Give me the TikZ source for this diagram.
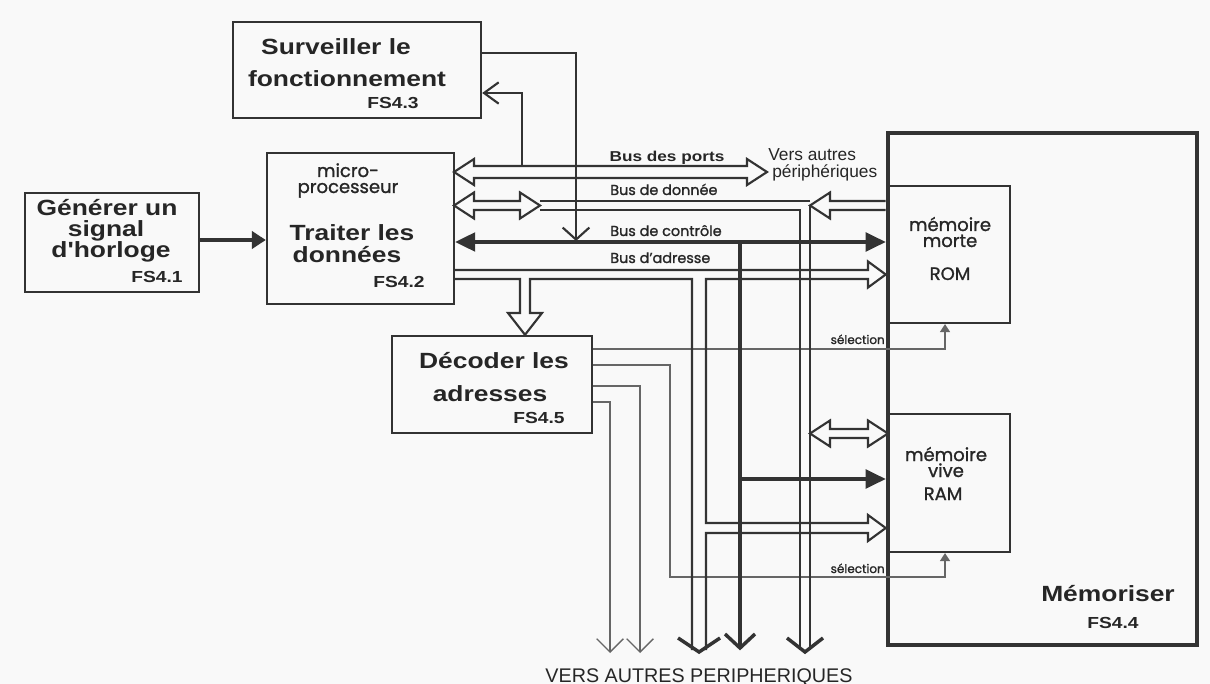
\documentclass[tikz,border=0pt]{standalone}
\usepackage{fontspec}
\setmainfont{Liberation Sans}
\newfontfamily\headfont{Liberation Sans}[FakeStretch=1.2]
\newfontfamily\geofont{Poppins}[FakeBold=1.2]
\usetikzlibrary{arrows.meta}

\definecolor{ink}{HTML}{262626}
\definecolor{wire}{HTML}{333333}
\definecolor{selwire}{HTML}{666666}
\definecolor{paper}{HTML}{F9F9F9}

\tikzset{
  block/.style={draw=wire, line width=1.8pt, inner sep=0pt},
  title/.style={font=\headfont\bfseries\fontsize{16.5}{18}\selectfont, text=ink, inner sep=0pt, anchor=base},
  fsref/.style={font=\headfont\bfseries\fontsize{12}{14}\selectfont, text=ink, inner sep=0pt, anchor=base},
  memlabel/.style={font=\geofont\fontsize{13.5}{12}\selectfont, text=ink, inner sep=0pt, align=center, anchor=base},
  buslabel/.style={font=\geofont\fontsize{10.8}{12}\selectfont, text=ink, inner sep=0pt, anchor=base west},
  sellabel/.style={font=\geofont\fontsize{9}{10}\selectfont, text=ink, inner sep=0pt, anchor=base east},
  plainlabel/.style={font=\fontsize{13}{12.75}\selectfont, text=ink, inner sep=0pt, align=left, anchor=base west},
  bus/.style={draw=wire, line width=1.6pt, line join=miter},
  ctrl/.style={draw=wire, line width=2.6pt, line join=miter},
  sel/.style={draw=selwire, line width=1pt},
  vhead/.style={draw=wire, line width=2.6pt, line join=miter},
  filltip/.style={-{Triangle[length=15pt,width=14pt]}},
  seltip/.style={-{Triangle[length=6pt,width=7.5pt]}},
  thinbarb/.style={-{Straight Barb[length=10pt,width=20pt]}},
}

% hollow double-headed bus arrow: left tip x, right tip x, centre y, half gap
\newcommand\hollowpair[4]{%
  \draw[bus] (#1,#3) -- (#1+20,#3-13) -- (#1+20,#3-#4) -- (#2-20,#3-#4)
    -- (#2-20,#3-13) -- (#2,#3) -- (#2-20,#3+13) -- (#2-20,#3+#4)
    -- (#1+20,#3+#4) -- (#1+20,#3+13) -- cycle;}

\begin{document}
\begin{tikzpicture}[x=0.75pt,y=-0.75pt]
\fill[paper] (0,0) rectangle (1210,684);
\useasboundingbox (0,0) rectangle (1210,684);

% ---------- function blocks ----------
\node[block, minimum width=248*0.75pt, minimum height=96*0.75pt]  (surv) at (357,70) {};
\node[block, minimum width=174*0.75pt, minimum height=99*0.75pt]  (gen)  at (112,242.5) {};
\node[block, minimum width=187*0.75pt, minimum height=151*0.75pt] (proc) at (360.5,228.5) {};
\node[block, minimum width=200*0.75pt, minimum height=97*0.75pt]  (dec)  at (492,384.5) {};
\node[draw=wire, line width=3.4pt, inner sep=0pt, minimum width=309*0.75pt, minimum height=512*0.75pt] (mem) at (1042.5,389) {};
\node[block, line width=1.6pt, minimum width=122*0.75pt, minimum height=137*0.75pt] (rom) at (949,254.5) {};
\node[block, line width=1.6pt, minimum width=122*0.75pt, minimum height=138*0.75pt] (ram) at (949,483) {};

% ---------- block texts (multi-line nodes are anchored on their last baseline) ----------
\node[title] (survA) at (336,55)  {Surveiller le};
\node[title] (survB) at (347,87)  {fonctionnement};
\node[fsref] (survC) at (393,109) {FS4.3};

\node[title] (genA) at (107,216) {Générer un};
\node[title] (genB) at (106,237) {signal};
\node[title] (genC) at (111,258) {d'horloge};
\node[fsref] (genD) at (157,282) {FS4.1};

\node[memlabel] (procA) at (348,193) {micro-\\processeur};
\node[title] (procC) at (352,241) {Traiter les};
\node[title] (procD) at (347,263) {données};
\node[fsref] (procE) at (399,287) {FS4.2};

\node[title] (decA) at (494,368) {Décoder les};
\node[title] (decB) at (490,401) {adresses};
\node[fsref] (decC) at (539,423) {FS4.5};

\node[title] (memA) at (1108,601) {Mémoriser};
\node[fsref] (memB) at (1113,628) {FS4.4};

\node[memlabel] (romA) at (950,247) {mémoire\\morte};
\node[memlabel] (romC) at (950,280) {ROM};
\node[memlabel] (ramA) at (946,477) {mémoire\\vive};
\node[memlabel] (ramC) at (943,500) {RAM};

% ---------- bus labels ----------
\node[font=\headfont\bfseries\fontsize{10.75}{12}\selectfont, text=ink, inner sep=0pt, anchor=base] (lPorts) at (667,162) {Bus des ports};
\node[plainlabel] (lOut) at (768,178) {Vers autres\\\hspace*{3pt}périphériques};
\node[buslabel] (lData) at (610,195) {Bus de donnée};
\node[buslabel] (lCtrl) at (610,236) {Bus de contrôle};
\node[buslabel] (lAddr) at (610,263) {Bus d’adresse};
\node[sellabel] (lSelR) at (885,344) {sélection};
\node[sellabel] (lSelW) at (885,573) {sélection};
\node[font=\fontsize{14.8}{16}\selectfont, text=ink, inner sep=0pt, anchor=base] (lBottom) at (699,682) {VERS AUTRES PERIPHERIQUES};

% ---------- chip-select lines from the decoder ----------
\draw[sel, seltip] (dec.east |- 0,349) -- (945,349) -- (945,0 |- rom.south);
\draw[sel, seltip] (dec.east |- 0,365) -- (670,365) -- (670,577) -- (945,577) -- (945,0 |- ram.south);
\draw[sel, thinbarb] (dec.east |- 0,386) -- (640,386) -- (640,653);
\draw[sel, thinbarb] (dec.east |- 0,402) -- (610,402) -- (610,653);

% ---------- clock ----------
\draw[draw=wire, line width=3.4pt, -{Triangle[length=10.5pt,width=13pt]}] (gen.east |- 0,240) -- (proc.west |- 0,240);

% ---------- port bus and supervision ----------
\hollowpair{454}{767}{172}{6}
\draw[bus, -{Straight Barb[length=9pt,width=20pt]}] (surv.east |- 0,53) -- (576,53) -- (576,241);
\draw[bus, -{Straight Barb[length=11pt,width=16pt]}] (522,166) -- (522,93) -- (surv.east |- 0,93);

% ---------- data bus ----------
\hollowpair{454}{540}{205.5}{4.5}
\draw[bus] (540,201) -- (810,201);
\draw[bus] (540,210) -- (800,210) -- (800,650);
\draw[bus] (mem.west |- 0,201) -- (830,201) -- (830,192.5) -- (810,205.5) -- (830,218.5) -- (830,210) -- (mem.west |- 0,210);
\draw[bus] (810,205.5) -- (810,650);
\hollowpair{810}{888}{433.5}{4.5}

% ---------- control bus ----------
\draw[ctrl, {Triangle[length=15pt,width=14pt]}-{Triangle[length=15pt,width=14pt]}] (proc.east |- 0,242) -- (mem.west |- 0,242);
\draw[ctrl] (740,242) -- (740,647);
\draw[ctrl, filltip] (740,479) -- (mem.west |- 0,479);

% ---------- address bus ----------
\draw[bus] (proc.east |- 0,270) -- (868,270) -- (868,261.5) -- (mem.west |- 0,274.5) -- (868,287.5) -- (868,279)
  -- (706,279) -- (706,523) -- (868,523) -- (868,515) -- (mem.west |- 0,528) -- (868,541) -- (868,533)
  -- (706,533) -- (706,650);
\draw[bus] (proc.east |- 0,279) -- (520,279) -- (520,313) -- (508,313) -- (525,0 |- dec.north) -- (542,313)
  -- (530,313) -- (530,279) -- (692,279) -- (692,650);

% ---------- heads towards the other peripherals ----------
\draw[vhead] (678,638) -- (699,652) -- (720,638);
\draw[vhead] (725,634) -- (740,648) -- (755,634);
\draw[vhead] (787,638) -- (805,652) -- (823,638);
\end{tikzpicture}
\end{document}
